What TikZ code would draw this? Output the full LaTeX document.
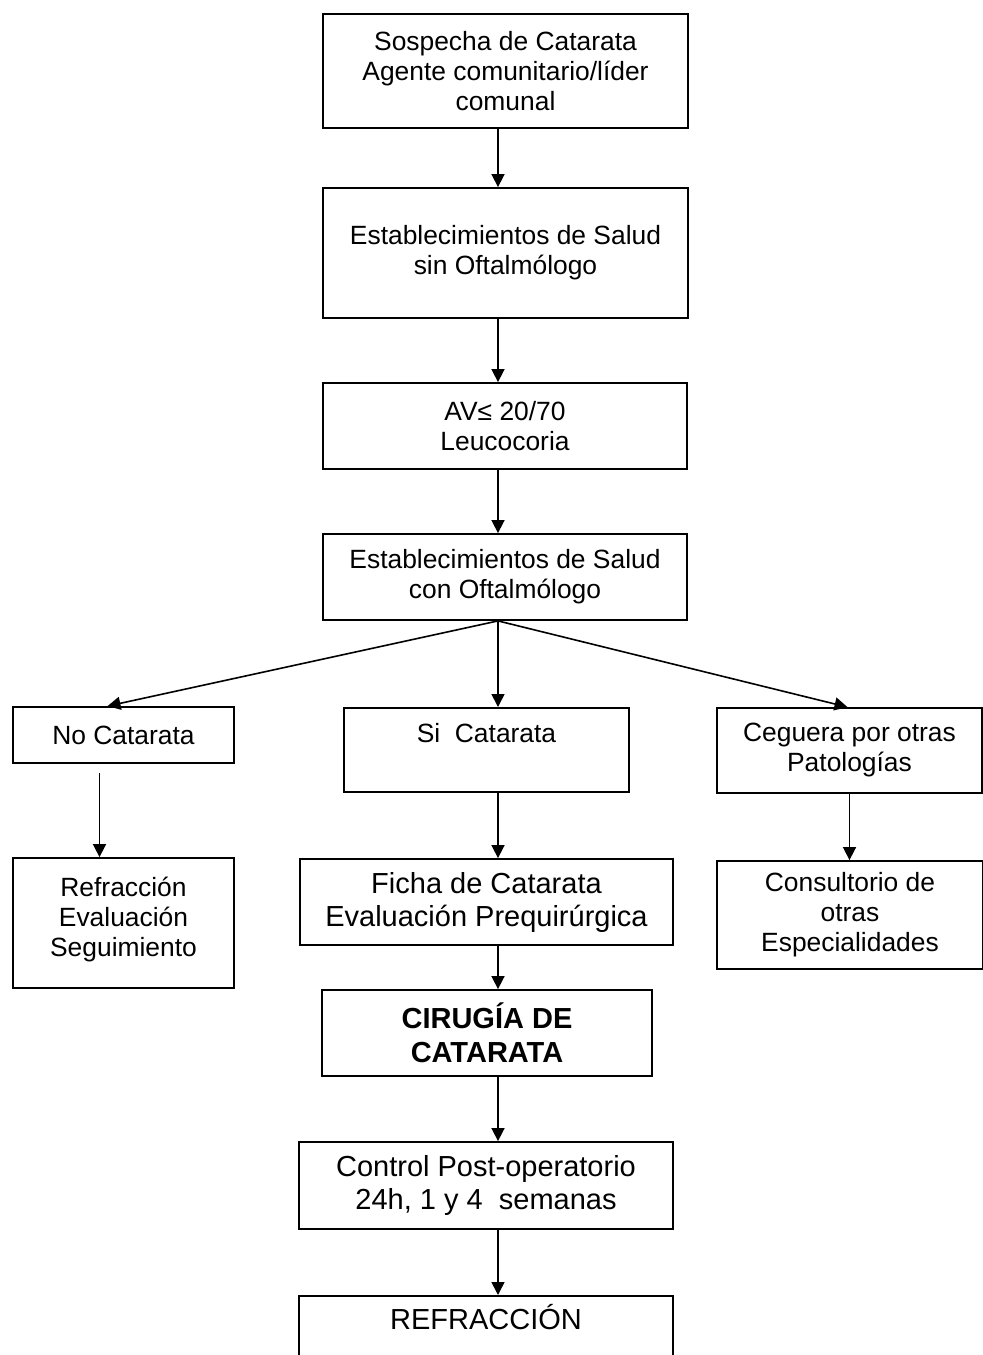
\documentclass[tikz,border=0pt]{standalone}
\usepackage{fontspec}
\setmainfont{Liberation Sans}
\usetikzlibrary{arrows.meta}

\begin{document}
\begin{tikzpicture}[x=0.5pt,y=-0.5pt,
    caja/.style={draw,line width=0.9pt,align=center,inner sep=0pt,
      font=\fontsize{13.2pt}{15pt}\selectfont},
    grande/.style={font=\fontsize{14.5pt}{16.5pt}\selectfont},
    flecha/.style={line width=0.8pt,-{Triangle[length=6.5pt,width=6.5pt]}}]
		\useasboundingbox (0,0) rectangle (983,1355);
		\coordinate (eje) at (498,0);

		\node[caja,minimum width=182.5pt,minimum height=57pt] (sospecha) at (505.5,71)
		  {Sospecha de Catarata\\Agente comunitario/líder\\comunal};
		\node[caja,minimum width=182.5pt,minimum height=65pt] (sinOft) at (505.5,253)
		  {Establecimientos de Salud\\sin Oftalmólogo};
		\node[caja,minimum width=182pt,minimum height=43pt] (agudeza) at (505,426)
		  {AV≤ 20/70\\Leucocoria};
		\node[caja,minimum width=182pt,minimum height=43pt] (conOft) at (505,577)
		  {Establecimientos de Salud\\con Oftalmólogo};

		% ramas
		\node[caja,minimum width=110.5pt,minimum height=28pt] (noCat) at (123.5,735)
		  {No Catarata};
		\node[caja,minimum width=142.5pt,text height=17.5pt,text depth=24.5pt,anchor=north]
		  (siCat) at (486.5,707) {Si~ Catarata};
		\node[caja,minimum width=132.5pt,minimum height=42.5pt] (ceguera) at (849.5,750.5)
		  {Ceguera por otras\\Patologías};

		\node[caja,minimum width=110.5pt,minimum height=65pt] (refrEval) at (123.5,923)
		  {Refracción\\Evaluación\\Seguimiento\\[-9pt]};
		\node[caja,grande,minimum width=186.5pt,minimum height=43pt] (ficha) at (486.5,902)
		  {Ficha de Catarata\\Evaluación Prequirúrgica};
		\node[caja,minimum width=133pt,minimum height=54pt] (consultorio) at (850,915)
		  {Consultorio de\\otras\\Especialidades};

		\node[caja,minimum width=165pt,minimum height=43pt,font=\fontsize{14.5pt}{17pt}\selectfont\bfseries]
		  (cirugia) at (487,1033) {CIRUGÍA DE\\CATARATA};
		\node[caja,grande,minimum width=187pt,minimum height=43.5pt] (control) at (486,1185.5)
		  {Control Post-operatorio\\24h, 1 y 4~ semanas};
		\node[caja,grande,minimum width=187pt,text height=17pt,text depth=40pt,anchor=north]
		  (refraccion) at (486,1295) {REFRACCIÓN};

		\draw[flecha] (sospecha.south -| eje) -- (sinOft.north -| eje);
		\draw[flecha] (sinOft.south -| eje) -- (agudeza.north -| eje);
		\draw[flecha] (agudeza.south -| eje) -- (conOft.north -| eje);

		\draw[flecha] (conOft.south -| eje) -- ([xshift=-8pt]noCat.north);
		\draw[flecha] (conOft.south -| eje) -- (siCat.north -| eje);
		\draw[flecha] (conOft.south -| eje) -- ([xshift=-1pt]ceguera.north);

		\draw[flecha] ([xshift=-12pt,yshift=-4.5pt]noCat.south) -- ([xshift=-12pt]refrEval.north);
		\draw[flecha] (siCat.south -| eje) -- (ficha.north -| eje);
		\draw[flecha] (ceguera.south) -- (ceguera.south |- consultorio.north);

		\draw[flecha] (ficha.south -| eje) -- (cirugia.north -| eje);
		\draw[flecha] (cirugia.south -| eje) -- (control.north -| eje);
		\draw[flecha] (control.south -| eje) -- (refraccion.north -| eje);
\end{tikzpicture}
\end{document}
